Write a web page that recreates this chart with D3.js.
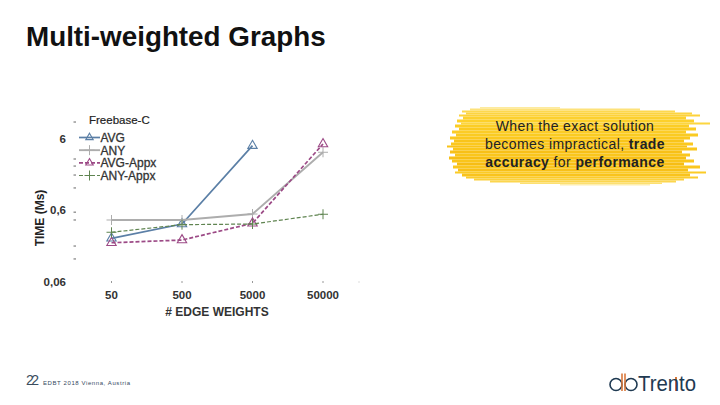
<!DOCTYPE html>
<html>
<head>
<meta charset="utf-8">
<script src="https://cdn.jsdelivr.net/npm/d3@7"></script>
<style>
  html, body { margin: 0; padding: 0; background: #fff; }
  text { font-family: "Liberation Sans", Arial, sans-serif; }
</style>
</head>
<body>
<svg id="chart" width="720" height="405"></svg>
<script>
const categories = ['50', '500', '5000', '50000'];
const avg = [0.241, 0.382, 4.76, null];
const any = [0.435, 0.435, 0.527, 3.85];
const avgAppx = [0.209, 0.228, 0.391, 5.03];
const anyAppx = [0.293, 0.374, 0.382, 0.523];
const seriesNames = ['AVG', 'ANY', 'AVG-Appx', 'ANY-Appx'];
const yLabels = [6, 0.6, 0.06];
const yLabelText = ['6', '0,6', '0,06'];
const yTicks = [10.2, 3.1, 2.47, 1.85, 1.22, 0.56, 0.435, 0.188, 0.124];

const svg = d3.select('#chart');

svg.append('text').attr('x', 26).attr('y', 46)
  .attr('font-size', 27.8).attr('font-weight', 'bold').attr('fill', '#111')
  .text('Multi-weighted Graphs');

// x is a point scale, y is log
const x = d3.scalePoint().domain(categories).range([111.5, 323]);
const y = d3.scaleLog().domain([0.06, 6]).range([281.5, 138.5]);

const styles = [
  { color: '#5b7fa6', dash: null, sym: 'tri', width: 1.7 },
  { color: '#adadad', dash: null, sym: 'plus', width: 1.9 },
  { color: '#9c4a86', dash: '4,2', sym: 'tri', width: 1.7 },
  { color: '#5f8450', dash: '4,2', sym: 'plus', width: 1.2 }
];
const allSeries = [avg, any, avgAppx, anyAppx];

// y axis, ticks only
const tickG = svg.append('g');
tickG.selectAll('line').data(yTicks).enter().append('line')
  .attr('x1', 73.5).attr('x2', 76)
  .attr('y1', d => y(d)).attr('y2', d => y(d))
  .attr('stroke', '#666').attr('stroke-width', 1);

svg.append('g').selectAll('text').data(yLabels).enter().append('text')
  .attr('x', 66).attr('y', d => y(d) + 4)
  .attr('text-anchor', 'end')
  .attr('font-size', 11.5).attr('font-weight', 'bold').attr('fill', '#333')
  .text((d, i) => yLabelText[i]);

// x axis
svg.append('g').selectAll('line').data(categories).enter().append('line')
  .attr('x1', d => x(d)).attr('x2', d => x(d))
  .attr('y1', 281).attr('y2', 283)
  .attr('stroke', '#999');
svg.append('line').attr('x1', 359).attr('x2', 359).attr('y1', 281).attr('y2', 283).attr('stroke', '#ddd');

svg.append('g').selectAll('text').data(categories).enter().append('text')
  .attr('x', d => x(d)).attr('y', 299)
  .attr('text-anchor', 'middle')
  .attr('font-size', 11.5).attr('font-weight', 'bold').attr('fill', '#333')
  .text(d => d);

svg.append('text').attr('x', 217).attr('y', 316).attr('text-anchor', 'middle')
  .attr('font-size', 12).attr('font-weight', 'bold').attr('fill', '#333')
  .text('# EDGE WEIGHTS');

svg.append('text').attr('transform', 'translate(44,218) rotate(-90)')
  .attr('text-anchor', 'middle')
  .attr('font-size', 12).attr('font-weight', 'bold').attr('fill', '#222')
  .text('TIME (Ms)');

function drawSymbol(g, sym, color, px, py, size) {
  if (sym === 'tri') {
    g.append('path')
      .attr('d', d3.symbol().type(d3.symbolTriangle).size(size)())
      .attr('transform', `translate(${px},${py})`)
      .attr('fill', 'none').attr('stroke', color).attr('stroke-width', 1.1);
  } else {
    g.append('path')
      .attr('d', `M-5,0H5M0,-5V5`)
      .attr('transform', `translate(${px},${py})`)
      .attr('fill', 'none').attr('stroke', color).attr('stroke-width', 1);
  }
}

const line = d3.line()
  .defined(d => d != null)
  .x((d, i) => x(categories[i]))
  .y(d => y(d));

const plot = svg.append('g');
allSeries.forEach((vals, s) => {
  const st = styles[s];
  plot.append('path').attr('d', line(vals))
    .attr('fill', 'none').attr('stroke', st.color)
    .attr('stroke-width', st.width)
    .attr('stroke-dasharray', st.dash);
  vals.forEach((v, i) => {
    if (v != null) drawSymbol(plot, st.sym, st.color, x(categories[i]), y(v), 38);
  });
});

// legend
svg.append('text').attr('x', 89).attr('y', 124)
  .attr('font-size', 11.5).attr('fill', '#222')
  .attr('stroke', '#222').attr('stroke-width', 0.2)
  .text('Freebase-C');
const legendY = d3.scalePoint().domain(seriesNames).range([137.5, 175.5]);
const legend = svg.append('g');
seriesNames.forEach((name, s) => {
  const st = styles[s];
  const ly = legendY(name);
  legend.append('line').attr('x1', 79).attr('x2', 100).attr('y1', ly).attr('y2', ly)
    .attr('stroke', st.color).attr('stroke-width', st.width)
    .attr('stroke-dasharray', st.dash);
  drawSymbol(legend, st.sym, st.color, 89.5, ly, 24);
  legend.append('text').attr('x', 100.5).attr('y', ly + 4.5)
    .attr('font-size', 12).attr('fill', '#333')
    .attr('stroke', '#333').attr('stroke-width', 0.3)
    .text(name);
});

// brush streaks behind the callout: [x0, x1, yTop, height, colour]
const streakRows = [
  [480, 560, 107, 1.5, '#fdeb9e'],
  [470, 640, 108.5, 2, '#fde27a'],
  [462, 675, 110.5, 2, '#fdd84e'],
  [466, 692, 112.5, 2, '#fcd440'],
  [459, 700, 114.5, 2, '#fdd23a'],
  [463, 686, 116.5, 3, '#fcd02e'],
  [457, 694, 119.5, 3, '#fdd02a'],
  [461, 710, 122.5, 2, '#fcd640'],
  [455, 689, 124.5, 3, '#fccd24'],
  [459, 696, 127.5, 3, '#fbca20'],
  [452, 686, 130.5, 3, '#fccc26'],
  [456, 698, 133.5, 3, '#facb22'],
  [450, 690, 136.5, 3, '#fbc81e'],
  [454, 684, 139.5, 3, '#f9c41a'],
  [451, 693, 142.5, 3, '#fbc81e'],
  [447, 687, 145.5, 2, '#f9c318'],
  [453, 697, 147.5, 3, '#fac61c'],
  [450, 682, 150.5, 3, '#f8c017'],
  [455, 690, 153.5, 3, '#fac61c'],
  [449, 686, 156.5, 3, '#f7be14'],
  [452, 694, 159.5, 3, '#fac51b'],
  [457, 684, 162.5, 3, '#f7bd14'],
  [453, 700, 165.5, 3, '#fac61e'],
  [458, 688, 168.5, 3, '#f8c018'],
  [455, 706, 171.5, 2, '#fbcb26'],
  [462, 690, 173.5, 3, '#f9c31c'],
  [466, 698, 176.5, 2, '#fbcb2a'],
  [474, 684, 178.5, 2, '#fbd03c'],
  [490, 676, 180.5, 2, '#fcd64e'],
  [520, 662, 182.5, 1.5, '#fde070'],
  [560, 650, 184, 1.5, '#feeeae']
];
svg.insert('g', ':first-child').selectAll('rect').data(streakRows).enter().append('rect')
  .attr('x', d => d[0]).attr('width', d => d[1] - d[0])
  .attr('y', d => d[2]).attr('height', d => d[3])
  .attr('fill', d => d[4]);

const calloutLines = [
  [['When the exact solution', false]],
  [['becomes impractical, ', false], ['trade', true]],
  [['accuracy', true], [' for ', false], ['performance', true]]
];
const callout = svg.append('g');
calloutLines.forEach((parts, i) => {
  const t = callout.append('text').attr('x', 575).attr('y', 131 + i * 18)
    .attr('text-anchor', 'middle').attr('font-size', 14).attr('letter-spacing', 0.4).attr('fill', '#222');
  parts.forEach(p => t.append('tspan').attr('font-weight', p[1] ? 'bold' : 'normal').text(p[0]));
});

// footer
svg.append('text').attr('x', 26).attr('y', 385).attr('font-size', 14).attr('textLength', 13).attr('fill', '#3b4d5e').text('22');
svg.append('text').attr('x', 43).attr('y', 385).attr('font-size', 6).attr('textLength', 87).attr('fill', '#34495e').text('EDBT 2018  Vienna, Austria');

// logo
const logo = svg.append('g').attr('fill', 'none').attr('stroke', '#1f3a52').attr('stroke-width', 1.6);
logo.append('circle').attr('cx', 616).attr('cy', 384.5).attr('r', 6);
logo.append('circle').attr('cx', 631).attr('cy', 384.5).attr('r', 6);
logo.append('line').attr('x1', 622).attr('x2', 622).attr('y1', 373.5).attr('y2', 391).attr('stroke', '#d9773a');
logo.append('line').attr('x1', 625).attr('x2', 625).attr('y1', 373.5).attr('y2', 391).attr('stroke', '#d9773a');
svg.append('text').attr('x', 638).attr('y', 391).attr('font-size', 22).attr('fill', '#1f3a52')
  .attr('textLength', 58).attr('lengthAdjust', 'spacingAndGlyphs').text('Trento');
// orange stem over the t of the wordmark
logo.append('line').attr('x1', 676).attr('x2', 676).attr('y1', 377).attr('y2', 391).attr('stroke', '#d9773a').attr('stroke-width', 2);
</script>
</body>
</html>
